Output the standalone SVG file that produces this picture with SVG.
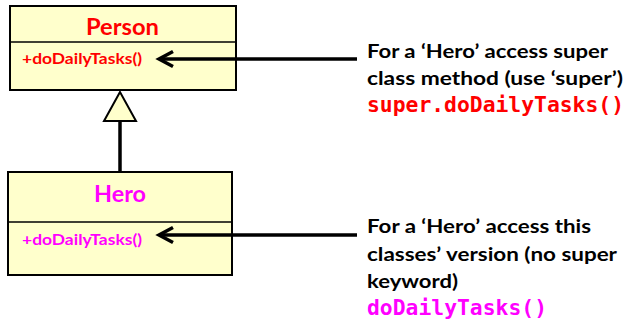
<svg xmlns="http://www.w3.org/2000/svg" width="629" height="328" viewBox="0 0 629 328">
  <style>
    .box { fill: #FFFFCC; stroke: #000; stroke-width: 2; }
    .div { stroke: #000; stroke-width: 1.5; fill: none; }
    .title { font-family: Lato, "Liberation Sans", Arial, sans-serif; font-weight: bold; font-size: 22px; text-anchor: middle; }
    .meth { font-family: Lato, "Liberation Sans", Arial, sans-serif; font-weight: bold; font-size: 15px; }
    .note { font-family: Lato, "Liberation Sans", Arial, sans-serif; font-weight: bold; font-size: 19.5px; fill: #000; }
    .code { font-family: "DejaVu Sans Mono", "Liberation Mono", monospace; font-weight: bold; font-size: 21px; }
    .red { fill: #FF0000; }
    .mag { fill: #FF00FF; }
    .conn { stroke: #000; stroke-width: 3.5; fill: none; }
  </style>
  <defs>
    <marker id="chev" markerUnits="userSpaceOnUse" markerWidth="30" markerHeight="30" viewBox="-22 -15 30 30" refX="0" refY="0" orient="auto" overflow="visible">
      <path d="M-14,-7.5 L0,0 L-14,7.5" fill="none" stroke="#000" stroke-width="3.5" stroke-linejoin="miter"/>
    </marker>
  </defs>
  <rect width="629" height="328" fill="#FFFFFF"/>

  <g id="person">
    <rect class="box" x="10" y="6" width="226" height="84"/>
    <line class="div" x1="10" y1="42" x2="236" y2="42"/>
    <text class="title red" x="122.5" y="35" textLength="73" lengthAdjust="spacingAndGlyphs">Person</text>
    <text class="meth red" x="22" y="64" textLength="120" lengthAdjust="spacingAndGlyphs">+doDailyTasks()</text>
  </g>

  <g id="hero">
    <rect class="box" x="8" y="172" width="224" height="103"/>
    <line class="div" x1="8" y1="222" x2="232" y2="222"/>
    <text class="title mag" x="120" y="202" textLength="52" lengthAdjust="spacingAndGlyphs">Hero</text>
    <text class="meth mag" x="22" y="245" textLength="120" lengthAdjust="spacingAndGlyphs">+doDailyTasks()</text>
  </g>

  <g id="note-super">
    <text class="note" x="367" y="58" textLength="241" lengthAdjust="spacingAndGlyphs">For a ‘Hero’ access super</text>
    <text class="note" x="367" y="85" textLength="256" lengthAdjust="spacingAndGlyphs">class method (use ‘super’)</text>
    <text class="code red" x="367" y="112" textLength="257" lengthAdjust="spacingAndGlyphs">super.doDailyTasks()</text>
  </g>

  <g id="note-this">
    <text class="note" x="367" y="233" textLength="224" lengthAdjust="spacingAndGlyphs">For a ‘Hero’ access this</text>
    <text class="note" x="367" y="261" textLength="250" lengthAdjust="spacingAndGlyphs">classes’ version (no super</text>
    <text class="note" x="367" y="288" textLength="91" lengthAdjust="spacingAndGlyphs">keyword)</text>
    <text class="code mag" x="367" y="315" textLength="180" lengthAdjust="spacingAndGlyphs">doDailyTasks()</text>
  </g>

  <g id="connectors">
    <line class="conn" x1="120" y1="121" x2="120" y2="172"/>
    <polygon points="120,92 104,121 136,121" fill="#FFFFCC" stroke="#000" stroke-width="2" stroke-linejoin="miter"/>
    <line class="conn" x1="357" y1="59" x2="159" y2="59" marker-end="url(#chev)"/>
    <line class="conn" x1="357" y1="235" x2="159" y2="235" marker-end="url(#chev)"/>
  </g>
</svg>
